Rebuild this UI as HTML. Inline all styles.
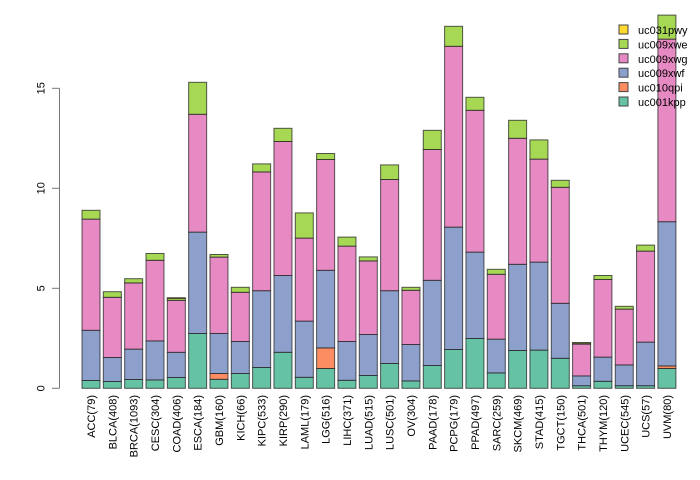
<!DOCTYPE html>
<html><head><meta charset="utf-8"><style>
body{margin:0;background:#fff}
svg{display:block;font-family:"Liberation Sans",Arial,sans-serif}
</style></head><body>
<svg id="chart" width="700" height="480" viewBox="0 0 700 480"></svg>
<script>
const categories=["ACC(79)","BLCA(408)","BRCA(1093)","CESC(304)","COAD(406)","ESCA(184)","GBM(160)","KICH(66)","KIPC(533)","KIRP(290)","LAML(179)","LGG(516)","LIHC(371)","LUAD(515)","LUSC(501)","OV(304)","PAAD(178)","PCPG(179)","PPAD(497)","SARC(259)","SKCM(469)","STAD(415)","TGCT(150)","THCA(501)","THYM(120)","UCEC(545)","UCS(57)","UVM(80)"];
const seriesNames=["uc001kpp","uc010qpi","uc009xwf","uc009xwg","uc009xwe","uc031pwy"];
const kpp=[0.39,0.34,0.44,0.42,0.54,2.74,0.45,0.74,1.04,1.8,0.55,0.99,0.4,0.64,1.24,0.37,1.14,1.94,2.49,0.77,1.89,1.91,1.5,0.13,0.35,0.13,0.13,0.99];
const qpi=[0,0,0,0,0,0,0.29,0,0,0,0,1.03,0,0,0,0,0,0,0,0,0,0,0,0,0,0,0,0.13];
const xwf=[2.51,1.2,1.52,1.95,1.26,5.07,2.0,1.6,3.84,3.84,2.81,3.88,1.94,2.05,3.64,1.82,4.26,6.12,4.32,1.69,4.31,4.4,2.75,0.49,1.21,1.04,2.18,7.21];
const xwg=[5.56,3.01,3.31,4.03,2.6,5.89,3.82,2.46,5.94,6.7,4.15,5.54,4.77,3.68,5.56,2.71,6.54,9.04,7.09,3.24,6.3,5.15,5.8,1.59,3.88,2.79,4.55,9.13];
const xwe=[0.44,0.28,0.21,0.34,0.1,1.6,0.13,0.25,0.4,0.66,1.26,0.3,0.45,0.2,0.73,0.15,0.96,1.0,0.65,0.25,0.9,0.96,0.35,0.06,0.2,0.14,0.3,1.2];
const pwy=[0,0,0,0,0.03,0,0,0,0,0,0,0,0,0,0,0,0,0,0,0,0,0,0,0.02,0,0,0,0];
const yTicks=[0,5,10,15];
const colors=["#66c2a5","#fc8d62","#8da0cb","#e78ac3","#a6d854","#ffd92f"];
const series=[kpp,qpi,xwf,xwg,xwe,pwy];
const NS="http://www.w3.org/2000/svg";
const svg=document.getElementById("chart");
const y0=388.3, pxPerUnit=20;
function yS(v){return y0-v*pxPerUnit;}
function xS(i){return 82+i*21.33;}
const bw=18;
function el(t,a,p){const e=document.createElementNS(NS,t);for(const k in a)e.setAttribute(k,a[k]);(p||svg).appendChild(e);return e;}
categories.forEach((c,i)=>{
  const g=el("g",{});
  
  
  let cum=0;
  series.forEach((s,k)=>{
    const v=s[i]; if(v<=0)return;
    const r=el("rect",{x:xS(i),y:yS(cum+v),width:bw,height:v*pxPerUnit,fill:colors[k],stroke:"#222","stroke-opacity":0.75,"stroke-width":1},g);
    
    
    cum+=v;
  });
  const t=el("text",{transform:`translate(${xS(i)+bw/2+4},395) rotate(-90)`,"text-anchor":"end","font-size":"11",fill:"#000"});
  t.textContent=c;
  
  
});
const ax=el("line",{x1:59.5,x2:59.5,y1:yS(0),y2:yS(15),stroke:"#777"});


yTicks.forEach(v=>{
  const tk=el("line",{x1:52,x2:59.5,y1:yS(v),y2:yS(v),stroke:"#777"});
  
  
  const t=el("text",{transform:`translate(44.5,${yS(v)}) rotate(-90)`,"text-anchor":"middle","font-size":"11",fill:"#000"});
  t.textContent=v;
  
  
});
const lg=el("g",{});


const order=[5,4,3,2,1,0];
order.forEach((k,j)=>{
  const yy=30+j*14.4;
  const r=el("rect",{x:619,y:yy-5,width:9,height:9,fill:colors[k],stroke:"#444"},lg);
  
  
  const t=el("text",{x:638,y:yy+4,"font-size":"11",fill:"#000"},lg);
  t.textContent=seriesNames[k];
  
  
});
</script>
</body></html>
